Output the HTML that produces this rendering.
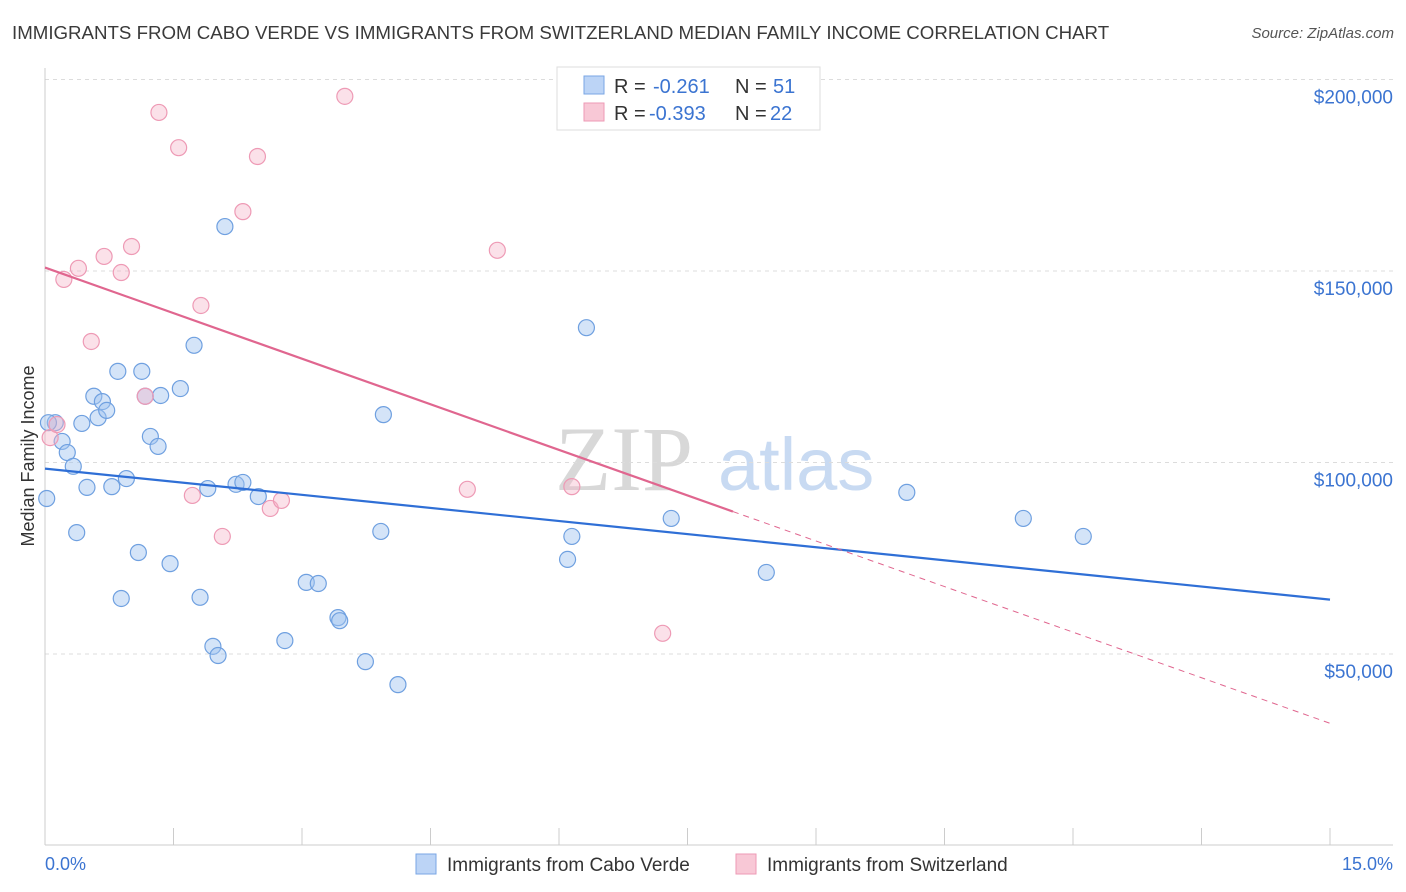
<!DOCTYPE html>
<html><head><meta charset="utf-8"><style>
body{margin:0;background:#fff;font-family:"Liberation Sans",sans-serif;}
#wrap{position:relative;width:1406px;height:892px;overflow:hidden;}
.t{position:absolute;white-space:nowrap;}
</style></head><body>
<div id="wrap">
<div class="t" style="left:12px;top:22px;font-size:18.7px;color:#3a3a3a;">IMMIGRANTS FROM CABO VERDE VS IMMIGRANTS FROM SWITZERLAND MEDIAN FAMILY INCOME CORRELATION CHART</div>
<div class="t" style="right:12px;top:25px;font-size:15px;color:#555;font-style:italic;">Source: ZipAtlas.com</div>
<svg id="svg" width="1406" height="892" style="position:absolute;left:0;top:0;"></svg>
</div>
<script>
const yTicks=[50000,100000,150000,200000];
const yTickLabels=["$50,000","$100,000","$150,000","$200,000"];
const xTickLabels=["0.0%","15.0%"];
const blueX=[0.02,0.12,0.20,0.26,0.33,0.37,0.43,0.49,0.57,0.62,0.67,0.72,0.78,0.85,0.89,0.95,1.09,1.13,1.17,1.23,1.32,1.35,1.46,1.58,1.74,1.81,1.90,1.96,2.02,2.10,2.23,2.31,2.49,2.80,3.05,3.19,3.42,3.44,3.74,3.92,3.95,4.12,6.10,6.15,6.32,7.31,8.42,10.06,11.42,12.12,0.04];
const blueY=[90600,110400,105500,102600,99000,81700,110200,93500,117300,111700,115900,113600,93700,123800,64500,95800,76500,123800,117300,106800,104200,117500,73600,119300,130600,64800,93200,52000,49600,161600,94300,94800,91100,53500,68700,68400,59500,58700,48000,82000,112500,42000,74700,80700,135200,85400,71300,92200,85400,80700,110400];
const pinkX=[0.06,0.14,0.22,0.39,0.54,0.69,0.89,1.01,1.17,1.33,1.56,1.72,1.82,2.07,2.31,2.48,2.63,2.76,3.50,4.93,5.28,6.15,7.21];
const pinkY=[106500,109900,147800,150700,131600,153800,149600,156400,117300,191400,182200,91400,141000,80700,165500,179900,88000,90100,195600,93000,155400,93700,55400];
const blueTrend=[98400,64200];
const pinkTrend=[150900,31900];
const pinkSolidEnd=8.03;

const X=v=>45+v/15*1285;
const Y=v=>654-(v-50000)*191.5/50000;
const svg=document.getElementById('svg');
const NS='http://www.w3.org/2000/svg';
function mk(tag,attrs,name){const e=document.createElementNS(NS,tag);for(const k in attrs)e.setAttribute(k,attrs[k]);


svg.appendChild(e);return e;}
let w=mk('text',{x:555,y:490,'font-size':'92','font-family':'Liberation Serif','fill':'#d8d8d8'},'watermark-zip');w.textContent='ZIP';
w=mk('text',{x:718,y:490,'font-size':'74','font-family':'Liberation Sans','fill':'#c8daf2'},'watermark-atlas');w.textContent='atlas';
yTicks.forEach((t,i)=>{mk('line',{x1:45,x2:1393,y1:Y(t),y2:Y(t),stroke:'#dcdcdc','stroke-dasharray':'4,4'},'gridline');
const tx=mk('text',{x:1393,y:Y(t)+24,'text-anchor':'end','font-size':'19',fill:'#3b74d1'},'y-tick-label');tx.textContent=yTickLabels[i];});
mk('line',{x1:45,x2:45,y1:68,y2:845,stroke:'#ccc'},'y-axis');
mk('line',{x1:45,x2:1393,y1:845,y2:845,stroke:'#ccc'},'x-axis');
for(let i=0;i<=10;i++){mk('line',{x1:X(i*1.5),x2:X(i*1.5),y1:828,y2:845,stroke:'#ccc'},'x-tick');}
let tl=mk('text',{x:45,y:870,'font-size':'18',fill:'#3b74d1'},'x-tick-label');tl.textContent=xTickLabels[0];
tl=mk('text',{x:1393,y:870,'text-anchor':'end','font-size':'18',fill:'#3b74d1'},'x-tick-label');tl.textContent=xTickLabels[1];
tl=mk('text',{x:34,y:456,'font-size':'18',fill:'#333','text-anchor':'middle',transform:'rotate(-90 34 456)'},'y-axis-title');tl.textContent='Median Family Income';
blueX.forEach((x,i)=>mk('circle',{cx:X(x),cy:Y(blueY[i]),r:8,fill:'rgba(160,196,240,0.45)',stroke:'#6fa0e0','stroke-width':1.2},'point-cabo-verde'));
pinkX.forEach((x,i)=>mk('circle',{cx:X(x),cy:Y(pinkY[i]),r:8,fill:'rgba(245,180,200,0.4)',stroke:'#ee9ab5','stroke-width':1.2},'point-switzerland'));
mk('line',{x1:X(0),y1:Y(blueTrend[0]),x2:X(15),y2:Y(blueTrend[1]),stroke:'#2f6fd6','stroke-width':2.2},'trend-cabo-verde');
const pe=pinkTrend[0]+(pinkTrend[1]-pinkTrend[0])*pinkSolidEnd/15;
mk('line',{x1:X(0),y1:Y(pinkTrend[0]),x2:X(pinkSolidEnd),y2:Y(pe),stroke:'#e0668f','stroke-width':2.2},'trend-switzerland');
mk('line',{x1:X(pinkSolidEnd),y1:Y(pe),x2:X(15),y2:Y(pinkTrend[1]),stroke:'#e0668f','stroke-width':1,'stroke-dasharray':'6,5'},'trend-switzerland-extension');
mk('rect',{x:557,y:67,width:263,height:63,fill:'#fff',stroke:'#ddd'},'legend-box');
mk('rect',{x:584,y:76,width:20,height:18,fill:'#bcd4f6',stroke:'#7aa6e4'},'legend-swatch-blue');
mk('rect',{x:584,y:103,width:20,height:18,fill:'#f8c8d6',stroke:'#ee9ab5'},'legend-swatch-pink');
function lt(x,y,s,c,n,fs){const e=mk('text',{x:x,y:y,'font-size':fs||'19',fill:c},n);e.textContent=s;}
lt(614,93,'R = ','#333','legend-r-label','20');lt(653,93,'-0.261','#3b74d1','legend-r-blue','20');lt(735,93,'N = ','#333','legend-n-label','20');lt(773,93,'51','#3b74d1','legend-n-blue','20');
lt(614,120,'R = ','#333','legend-r-label','20');lt(649,120,'-0.393','#3b74d1','legend-r-pink','20');lt(735,120,'N = ','#333','legend-n-label','20');lt(770,120,'22','#3b74d1','legend-n-pink','20');
mk('rect',{x:416,y:854,width:20,height:20,fill:'#bcd4f6',stroke:'#7aa6e4'},'bottom-legend-swatch-blue');
lt(447,871,'Immigrants from Cabo Verde','#333','bottom-legend-cabo-verde');
mk('rect',{x:736,y:854,width:20,height:20,fill:'#f8c8d6',stroke:'#ee9ab5'},'bottom-legend-swatch-pink');
lt(767,871,'Immigrants from Switzerland','#333','bottom-legend-switzerland');
</script>
</body></html>
